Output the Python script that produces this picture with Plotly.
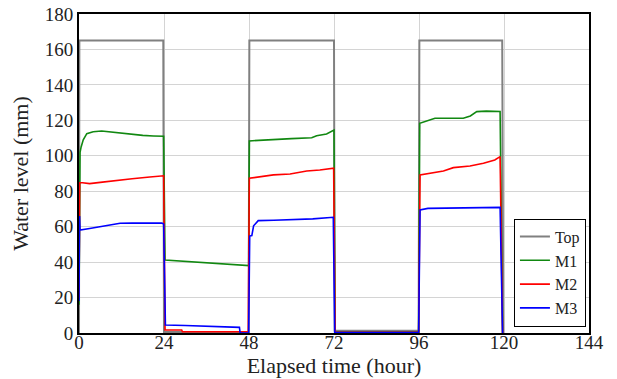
import plotly.graph_objects as go

# ---- data ----
top_t = [0, 0.1, 23.8, 24.0, 47.9, 48.1, 72.0, 72.2, 95.9, 96.1, 119.5, 119.8]
top_v = [0, 165, 165, 0.5, 0.5, 165, 165, 1.3, 1.3, 165, 165, 0]

m1_t = [0, 0.1, 0.3, 0.6, 1.2, 2.2, 4, 6.4, 9, 12, 15, 18, 21, 23.9, 24.3,
        30, 36, 42, 47.3, 47.9, 48.1, 51, 54.9, 60, 65.7, 67.1, 69.9, 71.3, 72.0, 72.3,
        95.9, 96.2, 98, 100.5, 104, 108.5, 110.5, 112.3, 115, 118.9, 119.6]
m1_v = [16, 96, 102, 105, 109, 112.5, 113.6, 114, 113.4, 112.6, 112, 111.5, 111.2, 111, 41.2,
        40.5, 39.8, 39.1, 38.4, 38, 108.4, 108.8, 109.3, 109.7, 110.2, 111.3, 112.3, 114, 114.5, 0.5,
        0.5, 118.3, 119.5, 121.2, 121.2, 121.2, 122.5, 124.9, 125.2, 125, 0]

m2_t = [0, 0.2, 1, 3, 6, 10, 15, 20, 23.9, 24.3, 29, 29.2, 47.8, 48.1, 51, 54.9,
        59.6, 64.3, 68, 70.9, 71.9, 72.3, 95.9, 96.3, 100, 102.9, 105.7, 110.4, 114.2, 117.4,
        118.9, 119.6]
m2_v = [20, 84.8, 84.8, 84.3, 85, 86, 87, 88, 88.7, 1.7, 1.7, 0.7, 0.7, 87.3, 88.2, 89.2,
        89.7, 91.4, 92, 92.9, 93, 0.4, 0.4, 89.2, 90.3, 91.4, 93.3, 94.2, 95.8, 97.6,
        99.5, 0]

m3_t = [0, 0.15, 0.3, 3, 5.9, 8.7, 11.6, 15, 20, 23.4, 23.9, 24.4, 30, 36, 42, 45.3,
        45.5, 47.9, 48.2, 48.8, 49.3, 50.6, 55, 60, 66, 71.8, 72.2, 95.9, 96.3, 98.5,
        105, 112, 118.9, 119.6]
m3_v = [18, 66, 58.1, 59, 60, 61, 61.9, 62, 62, 62, 61.5, 4.5, 4.2, 3.9, 3.5, 3.2,
        0, 0, 54.7, 55, 60.5, 63.4, 63.6, 63.8, 64.4, 65.3, 0.3, 0.3, 69.4, 70.3,
        70.5, 70.7, 70.9, 0]

x_ticks = [0, 24, 48, 72, 96, 120, 144]
y_ticks = [0, 20, 40, 60, 80, 100, 120, 140, 160, 180]

FONT = "Liberation Serif, Times New Roman, serif"
TXT = "#222"

fig = go.Figure()
series = [
    ("Top", top_t, top_v, "#808080", 2),
    ("M1", m1_t, m1_v, "#118811", 1.6),
    ("M2", m2_t, m2_v, "#ff0000", 1.6),
    ("M3", m3_t, m3_v, "#0000ff", 1.6),
]
for name, t, v, c, w in series:
    fig.add_trace(go.Scatter(x=t, y=v, mode="lines", name=name,
                             line=dict(color=c, width=w)))

axis_common = dict(
    showline=True, mirror=True, linecolor="black", linewidth=2,
    showgrid=True, gridcolor="#d4d4d4", gridwidth=1, automargin=False,
    zeroline=False, ticks="", tickfont=dict(family=FONT, size=19, color=TXT),
)
fig.update_xaxes(range=[0, 144], tickvals=x_ticks, ticktext=[str(v) for v in x_ticks],
                 ticklabelstandoff=-9,
                 title=dict(text="Elapsed time (hour)", font=dict(family=FONT, size=22, color=TXT),
                            standoff=4),
                 **axis_common)
fig.update_yaxes(range=[0, 180], tickvals=y_ticks, ticktext=[str(v) for v in y_ticks],
                 title=dict(text="Water level (mm)", font=dict(family=FONT, size=22, color=TXT),
                            standoff=10),
                 **axis_common)

fig.update_layout(
    template="none",
    width=617, height=379,
    margin=dict(l=79, r=28, t=14, b=46),
    paper_bgcolor="white", plot_bgcolor="white",
    font=dict(family=FONT, color=TXT),
    legend=dict(x=0.994, y=0.02, xanchor="right", yanchor="bottom",
                bgcolor="white", bordercolor="black", borderwidth=1,
                font=dict(family=FONT, size=16, color=TXT),
                tracegroupgap=0, itemwidth=30),
    showlegend=True,
)

fig.write_html("out.html")
